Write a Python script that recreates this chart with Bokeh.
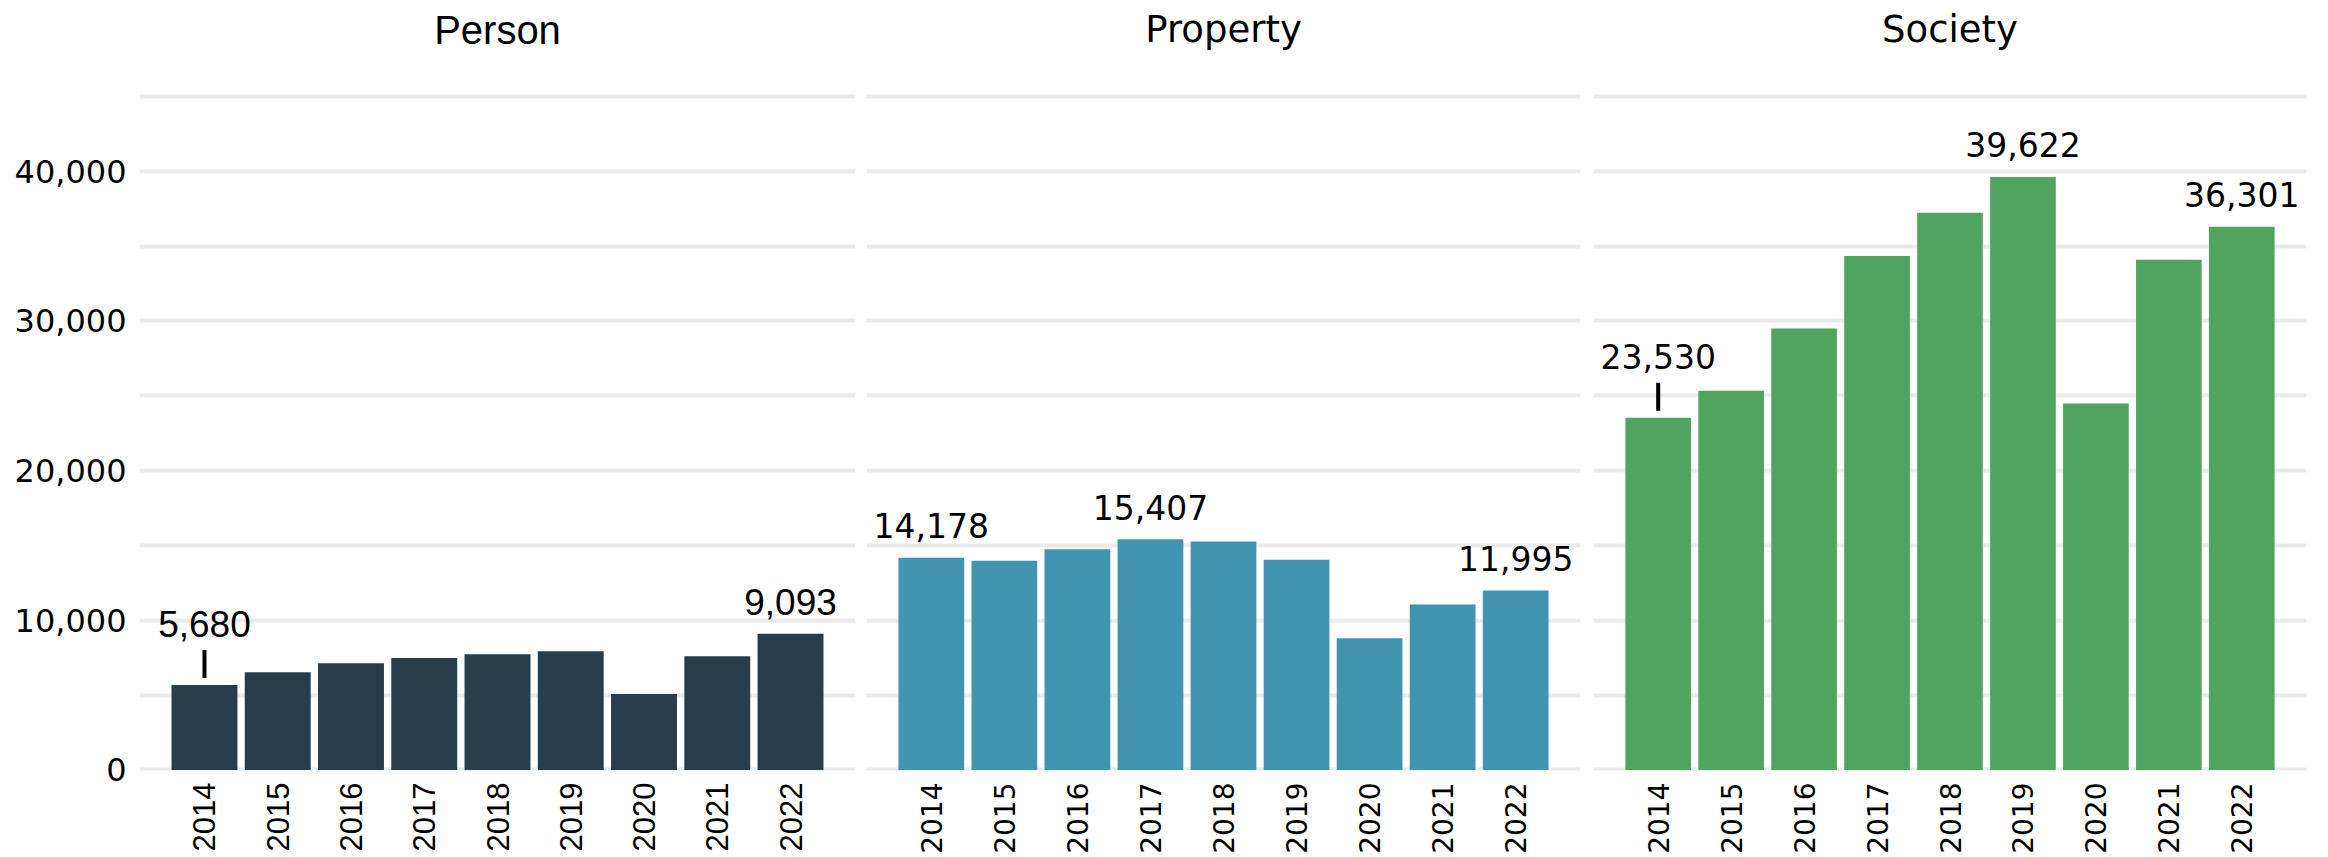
import numpy as np
from bokeh.plotting import figure
from bokeh.models import (FactorRange, Range1d, FixedTicker, NumeralTickFormatter,
                          ColumnDataSource)
from bokeh.layouts import row
from bokeh.embed import file_html
from bokeh.resources import INLINE
from bokeh.core.properties import value

# ---- data ----
years = ["2014", "2015", "2016", "2017", "2018", "2019", "2020", "2021", "2022"]
person = [5680, 6530, 7130, 7470, 7730, 7930, 5070, 7600, 9093]
property_ = [14178, 13980, 14740, 15407, 15260, 14050, 8800, 11060, 11995]
society = [23530, 25330, 29490, 34340, 37230, 39622, 24490, 34090, 36301]
panel_names = ["Person", "Property", "Society"]
panel_colors = ["#283D4B", "#4195B1", "#51A45F"]
labelled_years = [["2014", "2022"], ["2014", "2017", "2022"], ["2014", "2019", "2022"]]
leader_years = [["2014"], [], ["2014"]]
y_tick_values = [0, 10000, 20000, 30000, 40000]
grid_values = [0, 5000, 10000, 15000, 20000, 25000, 30000, 35000, 40000, 45000]

series = [person, property_, society]

# ---- layout / style ----
UNITS_PER_PX = 45440 / 680          # data units per screen pixel
FRAME_H = 770
Y0 = -40
Y1 = Y0 + FRAME_H * UNITS_PER_PX
ZERO_FROM_TOP = FRAME_H + Y0 / UNITS_PER_PX
TITLE_Y = (ZERO_FROM_TOP - 29) * UNITS_PER_PX   # panel heading position
y_range = Range1d(Y0, Y1)

fonts = ["Liberation Sans", "DejaVu Sans", "DejaVu Sans"]
title_sizes = ["40px", "37px", "37px"]
label_sizes = ["37px", "33px", "33px"]
xtick_sizes = ["31px", "28px", "28px"]
frame_widths = [716, 714, 713]
borders_left = [139, 6, 7]
borders_right = [5, 6, 6]

figs = []
for i in range(3):
    vals = series[i]
    font = fonts[i]
    p = figure(x_range=FactorRange(factors=years, range_padding=0.387,
                                   range_padding_units="absolute"),
               y_range=y_range, frame_width=frame_widths[i], frame_height=FRAME_H,
               min_border_left=borders_left[i], min_border_right=borders_right[i],
               min_border_top=0, min_border_bottom=0,
               output_backend="svg", toolbar_location=None)
    p.outline_line_color = None
    p.background_fill_color = "white"
    p.border_fill_color = "white"

    p.xgrid.visible = False
    p.ygrid.ticker = FixedTicker(ticks=grid_values)
    p.ygrid.grid_line_color = "#EBEBEB"
    p.ygrid.grid_line_width = 4

    # panel heading, centred over the middle category
    p.text(x=[years[len(years) // 2]], y=[TITLE_Y], text=[panel_names[i]],
           text_align="center", text_baseline="middle", text_font=value(font),
           text_font_size=title_sizes[i], text_color="black")

    src = ColumnDataSource(dict(year=years, val=vals))
    p.vbar(x="year", top="val", width=0.9, source=src, fill_color=panel_colors[i],
           line_color=None)

    lab_x, lab_y, lab_t, lab_off = [], [], [], []
    for y in labelled_years[i]:
        v = vals[years.index(y)]
        lab_x.append(y)
        lab_y.append(v)
        lab_t.append(f"{v:,}")
        lab_off.append(-61 if y in leader_years[i] else -32)
    p.text(x=lab_x, y=lab_y, text=lab_t, y_offset=lab_off, text_align="center",
           text_baseline="alphabetic", text_font=value(font),
           text_font_size=label_sizes[i], text_color="black")

    for y in leader_years[i]:
        v = vals[years.index(y)]
        p.segment(x0=[y], y0=[v + 7 * UNITS_PER_PX], x1=[y], y1=[v + 35 * UNITS_PER_PX],
                  line_color="black", line_width=4)

    xa = p.xaxis[0]
    xa.major_label_orientation = np.pi / 2
    xa.major_label_text_font = font
    xa.major_label_text_font_size = xtick_sizes[i]
    xa.major_label_text_color = "black"
    xa.major_label_standoff = 12
    xa.axis_line_color = None
    xa.major_tick_line_color = None
    xa.minor_tick_line_color = None
    xa.major_tick_out = 0

    ya = p.yaxis[0]
    if i == 0:
        ya.ticker = FixedTicker(ticks=y_tick_values)
        ya.formatter = NumeralTickFormatter(format="0,0")
        ya.major_label_text_font = "DejaVu Sans"
        ya.major_label_text_font_size = "32px"
        ya.major_label_text_color = "black"
        ya.major_label_standoff = 13
        ya.axis_line_color = None
        ya.major_tick_line_color = None
        ya.minor_tick_line_color = None
        ya.major_tick_out = 0
    else:
        ya.visible = False
    figs.append(p)

layout = row(*figs)
open("out.html", "w").write(file_html(layout, INLINE))
